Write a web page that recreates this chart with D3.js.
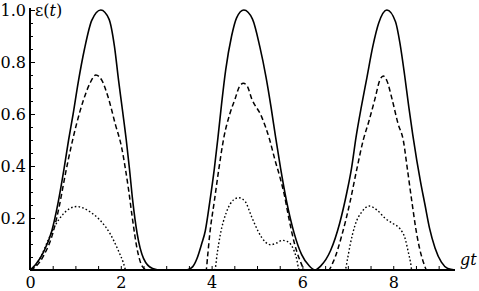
<!DOCTYPE html>
<html>
<head>
<meta charset="utf-8">
<script src="https://cdn.jsdelivr.net/npm/d3@7"></script>
<style>
  body { margin: 0; background: #fff; }
  svg { display: block; }
  .lbl { font-family: "DejaVu Serif"; font-size: 16px; }
</style>
</head>
<body>
<svg id="chart" width="479" height="291"></svg>
<script>
/* eps(t) against gt: three curves (solid, dashed, dotted) */

// solid curve
const gtSolid = [0, 0.12, 0.3, 0.48, 0.62, 0.75, 0.85, 0.95, 1.06, 1.2, 1.36, 1.56, 1.74, 1.86, 1.95, 2.04, 2.12, 2.19, 2.26, 2.36, 2.5, 2.7, 2.9,
  3.45, 3.58, 3.68, 3.78, 3.86, 3.96, 4.06, 4.14, 4.22, 4.31, 4.44, 4.55, 4.71, 4.9, 5.06, 5.2, 5.31, 5.41, 5.52, 5.65, 5.82, 5.98, 6.14, 6.28,
  6.4, 6.62, 6.82, 6.98, 7.08, 7.18, 7.3, 7.42, 7.55, 7.68, 7.86, 8.05, 8.15, 8.25, 8.34, 8.43, 8.52, 8.6, 8.7, 8.8, 8.92, 9.06, 9.2, 9.36];
const valSolid = [0, 0.02, 0.07, 0.15, 0.26, 0.39, 0.5, 0.6, 0.72, 0.85, 0.96, 1.0, 0.965, 0.86, 0.73, 0.61, 0.5, 0.39, 0.27, 0.14, 0.045, 0.006, 0,
  0, 0.012, 0.045, 0.1, 0.15, 0.263, 0.39, 0.51, 0.64, 0.77, 0.9, 0.97, 1.0, 0.965, 0.86, 0.74, 0.625, 0.51, 0.39, 0.265, 0.14, 0.06, 0.018, 0,
  0.015, 0.075, 0.18, 0.3, 0.39, 0.51, 0.63, 0.74, 0.86, 0.95, 1.0, 0.955, 0.87, 0.75, 0.63, 0.52, 0.42, 0.34, 0.25, 0.16, 0.085, 0.03, 0.006, 0];

// dashed curve
const gtDashed = [0, 0.12, 0.3, 0.5, 0.65, 0.78, 0.9, 1.03, 1.18, 1.32, 1.45, 1.58, 1.72, 1.88, 2.02, 2.1, 2.17, 2.25, 2.36, 2.48, 2.58,
  3.88, 3.91, 3.96, 4.06, 4.16, 4.27, 4.4, 4.52, 4.61, 4.7, 4.79, 4.88, 5.1, 5.28, 5.4, 5.5, 5.6, 5.7, 5.82, 5.95, 6.06,
  6.57, 6.68, 6.87, 7.05, 7.2, 7.34, 7.46, 7.6, 7.7, 7.78, 7.86, 7.97, 8.11, 8.22, 8.31, 8.41, 8.52, 8.66, 8.74, 9.36];
const valDashed = [0, 0.012, 0.055, 0.14, 0.25, 0.37, 0.47, 0.565, 0.655, 0.718, 0.75, 0.73, 0.665, 0.56, 0.47, 0.39, 0.31, 0.205, 0.08, 0.012, 0,
  0, 0.05, 0.14, 0.265, 0.39, 0.51, 0.6, 0.66, 0.705, 0.718, 0.705, 0.66, 0.59, 0.5, 0.42, 0.36, 0.29, 0.2, 0.105, 0.035, 0,
  0, 0.032, 0.135, 0.263, 0.39, 0.5, 0.57, 0.66, 0.728, 0.746, 0.728, 0.66, 0.56, 0.5, 0.39, 0.263, 0.135, 0.032, 0, 0];

// dotted curve
const gtDotted = [0, 0.1, 0.25, 0.4, 0.55, 0.73, 0.88, 1.03, 1.18, 1.32, 1.54, 1.76, 1.94, 2.06, 2.11,
  4.07, 4.12, 4.19, 4.33, 4.48, 4.6, 4.74, 4.88, 5.03, 5.18, 5.3, 5.42, 5.56, 5.66, 5.76, 5.87, 5.93,
  6.94, 6.99, 7.05, 7.16, 7.31, 7.47, 7.64, 7.82, 8.0, 8.15, 8.26, 8.33, 8.38, 8.41, 9.36];
const valDotted = [0, 0.012, 0.055, 0.115, 0.17, 0.215, 0.237, 0.244, 0.238, 0.224, 0.192, 0.141, 0.077, 0.026, 0,
  0, 0.06, 0.135, 0.224, 0.269, 0.278, 0.263, 0.205, 0.147, 0.108, 0.097, 0.103, 0.114, 0.11, 0.094, 0.045, 0,
  0, 0.04, 0.096, 0.173, 0.224, 0.246, 0.231, 0.199, 0.178, 0.158, 0.122, 0.07, 0.03, 0, 0];

// ticks
const xMajorTicks = [0, 2, 4, 6, 8];
const xMinorTicks = [0.5, 1, 1.5, 2, 2.5, 3, 3.5, 4, 4.5, 5, 5.5, 6, 6.5, 7, 7.5, 8, 8.5, 9];
const yMajorTicks = [0.2, 0.4, 0.6, 0.8, 1.0];
const yMinorTicks = [0.05, 0.1, 0.15, 0.25, 0.3, 0.35, 0.45, 0.5, 0.55, 0.65, 0.7, 0.75, 0.85, 0.9, 0.95];

const svg = d3.select("#chart");
const x = d3.scaleLinear().domain([0, 9.36]).range([30, 455]);
const y = d3.scaleLinear().domain([0, 1]).range([270, 10]);

const line = d3.line()
    .x(d => x(d[0]))
    .y(d => y(d[1]))
    .curve(d3.curveMonotoneX);

const curves = [
    { gt: gtSolid, v: valSolid, dash: null, w: 1.6 },
    { gt: gtDashed, v: valDashed, dash: "5,3", w: 1.5 },
    { gt: gtDotted, v: valDotted, dash: "1.6,2.2", w: 1.4 }
];

svg.append("g").selectAll("path")
    .data(curves)
    .join("path")
    .attr("d", c => line(d3.zip(c.gt, c.v)))
    .attr("fill", "none")
    .attr("stroke", "#000")
    .attr("stroke-width", c => c.w)
    .attr("stroke-dasharray", c => c.dash);

// x axis: ticks point up into the plot, labels below
const xAx = svg.append("g").attr("transform", `translate(0,${y(0)})`);
xAx.call(d3.axisTop(x).tickValues(xMinorTicks).tickSize(4).tickSizeOuter(0).tickFormat(""));
xAx.select(".domain").attr("stroke-width", 2).attr("d", `M${x(0)},0H${x(9.36)}`);

const xLab = svg.append("g").attr("transform", `translate(0,${y(0)})`)
    .call(d3.axisBottom(x).tickValues(xMajorTicks).tickSize(0).tickPadding(7).tickFormat(d3.format("d")));
xLab.select(".domain").remove();
xLab.attr("font-family", null).attr("font-size", null).attr("class", "lbl");

// y axis: ticks point right, labels left
const yAx = svg.append("g").attr("transform", `translate(${x(0)},0)`);
yAx.call(d3.axisRight(y).tickValues(yMajorTicks).tickSize(5).tickSizeOuter(0).tickFormat(""));
yAx.select(".domain").attr("stroke-width", 2).attr("d", `M0,${y(0)}V8`);
const yMin = svg.append("g").attr("transform", `translate(${x(0)},0)`)
    .call(d3.axisRight(y).tickValues(yMinorTicks).tickSize(3).tickFormat(""));
yMin.select(".domain").remove();

const yLab = svg.append("g").attr("transform", `translate(${x(0)},0)`)
    .call(d3.axisLeft(y).tickValues(yMajorTicks).tickSize(0).tickPadding(4).tickFormat(d3.format(".1f")));
yLab.select(".domain").remove();
yLab.attr("font-family", null).attr("font-size", null).attr("class", "lbl");

// axis titles
const yTitle = svg.append("text").attr("x", 35).attr("y", 16).attr("class", "lbl");
yTitle.append("tspan").text("ε(");
yTitle.append("tspan").attr("font-style", "italic").text("t");
yTitle.append("tspan").text(")");

svg.append("text").attr("x", 460).attr("y", 265).attr("class", "lbl")
    .attr("font-style", "italic").text("gt");
</script>
</body>
</html>
